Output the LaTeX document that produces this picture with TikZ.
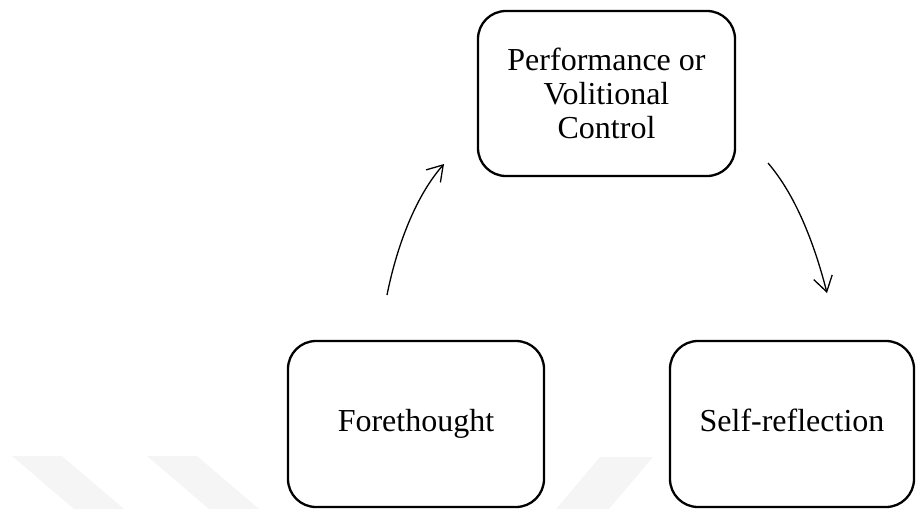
\documentclass[tikz,border=0pt]{standalone}
\usepackage{fontspec}
\setmainfont{Liberation Serif}
\usetikzlibrary{arrows.meta}
\begin{document}
\begin{tikzpicture}[x=1pt,y=-1pt,
  phase/.style={draw=black,line width=2.3pt,rounded corners=28pt,
    fill=white,align=center,inner sep=0pt,
    font=\fontsize{32}{34}\selectfont},
  cyclearrow/.style={line width=1.3pt,
    -{Straight Barb[length=15pt,width=19pt,line width=1.3pt]}},
  faintband/.style={fill=black!4,draw=none}]
\useasboundingbox (0,0) rectangle (916,509);
% faint background bands
\fill[faintband] (12,456) -- (62,456) -- (124,509) -- (74,509) -- cycle;
\fill[faintband] (147,456) -- (197,456) -- (259,509) -- (209,509) -- cycle;
\fill[faintband] (600,457) -- (653,457) -- (609,509) -- (556,509) -- cycle;
% phases of the cycle
\node[phase,minimum width=257pt,minimum height=165pt] (perf) at (606.5,93.5)
  {Performance or\\Volitional\\Control};
\node[phase,minimum width=256pt,minimum height=166pt,
  text height=22pt,text depth=7pt] (fore) at (416,424) {Forethought};
\node[phase,minimum width=244pt,minimum height=166pt,
  text height=22pt,text depth=7pt] (self) at (792,424) {Self-reflection};
% arrow ends
\coordinate (foreOut) at (387,295);
\coordinate (perfIn) at (444,164);
\coordinate (perfOut) at (768,163);
\coordinate (selfIn) at (827,293);
\draw[cyclearrow] (foreOut) .. controls (396,250) and (414,198) .. (perfIn);
\draw[cyclearrow] (perfOut) .. controls (798,198) and (816,250) .. (selfIn);
\end{tikzpicture}
\end{document}
